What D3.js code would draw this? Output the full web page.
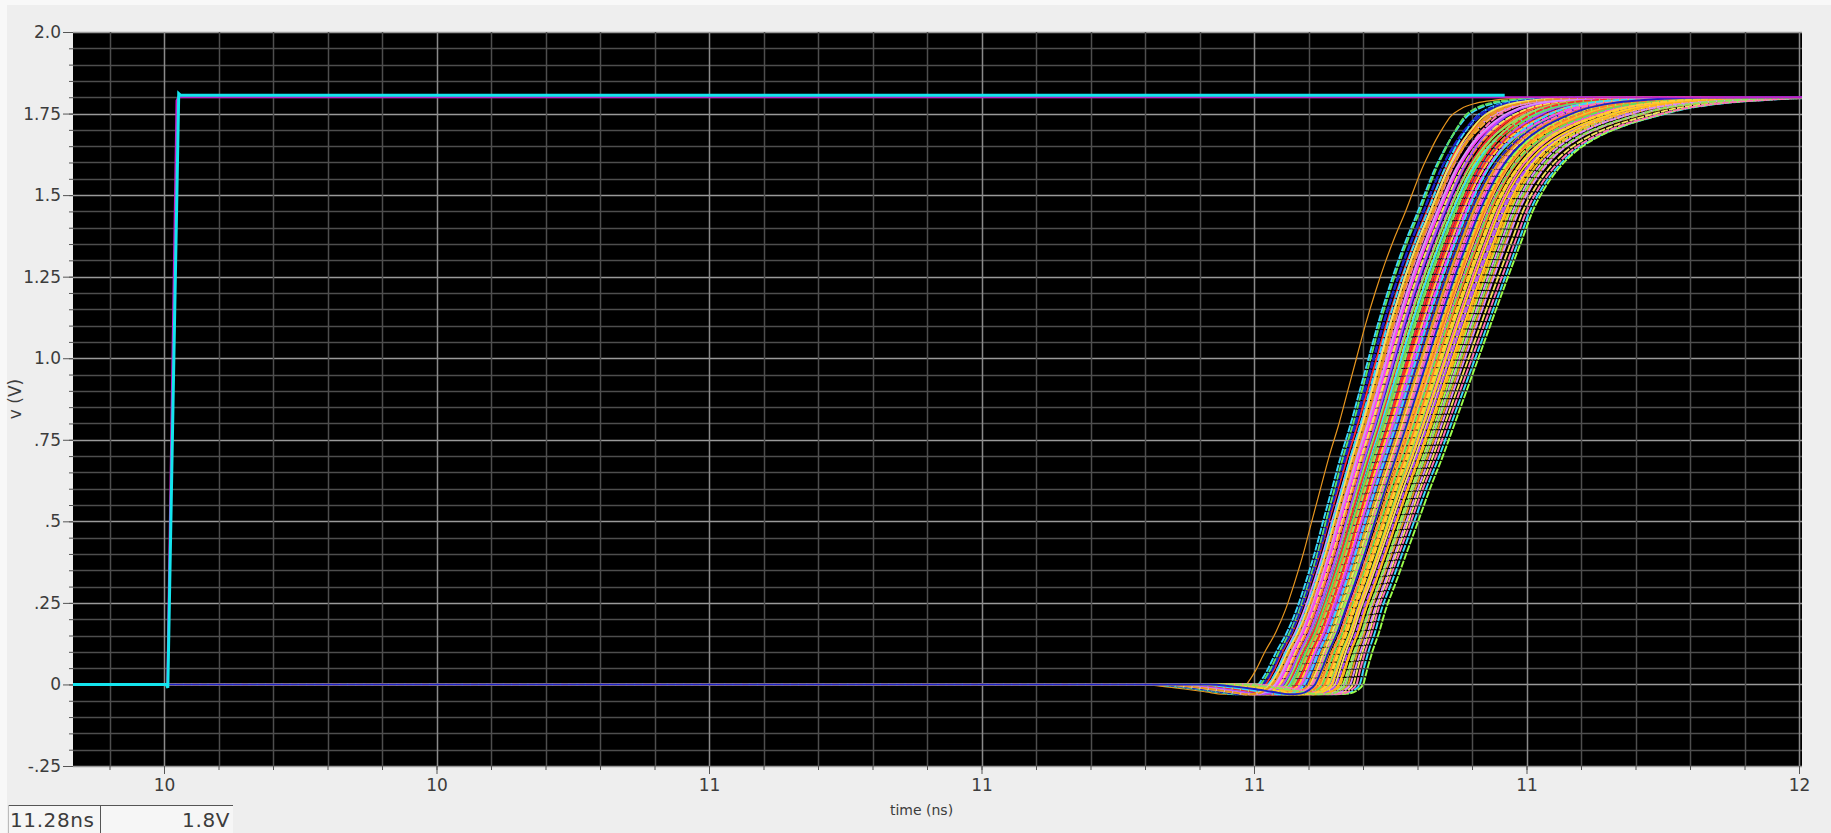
<!DOCTYPE html>
<html>
<head>
<meta charset="utf-8">
<script src="https://cdn.jsdelivr.net/npm/d3@7"></script>
<style>
  body { margin: 0; background: #eeeeee; overflow: hidden; }
  svg text { font-family: "DejaVu Sans", sans-serif; fill: #3c3c3c; }
</style>
</head>
<body>
<div id="chart"></div>
<script>
// ---- axis ticks ----
const yTickValues = [-0.25, 0, 0.25, 0.5, 0.75, 1.0, 1.25, 1.5, 1.75, 2.0];
const yTickLabels = ["-.25", "0", ".25", ".5", ".75", "1.0", "1.25", "1.5", "1.75", "2.0"];
const xTickValues = [10.0, 10.25, 10.5, 10.75, 11.0, 11.25, 11.5];
const xTickLabels = ["10", "10", "11", "11", "11", "11", "12"];

// ---- input step (two traces, the cyan one on top) ----
const inTime = [9.90, 10.002, 10.0035, 10.0135, 10.0148, 10.017, 11.23];
const inVolt = [0, 0, -0.01, 1.811, 1.807, 1.806, 1.806];
const in2Time = [9.90, 10.003, 10.0115, 10.013, 11.60];
const in2Volt = [0, 0, 1.79, 1.80, 1.80];

// ---- output waveform: voltage levels and the time (ns, relative to the 0.9V
//      crossing) at which the fastest / slowest edge of the bundle reaches them ----
const outV = [0, 0, -0.006, -0.014, -0.023, -0.030, -0.028, -0.017, 0, 0.04, 0.10,
  0.16, 0.23, 0.31, 0.41, 0.50, 0.60, 0.70, 0.80, 0.90, 1.00, 1.10, 1.20, 1.29,
  1.37, 1.45, 1.52, 1.58, 1.63, 1.67, 1.71, 1.74, 1.765, 1.782, 1.791, 1.797, 1.799, 1.80, 1.80];
const dtFast = [-1.4, -0.19, -0.17, -0.15, -0.13, -0.115, -0.106, -0.099, -0.093, -0.085, -0.076,
  -0.066, -0.057, -0.049, -0.040, -0.033, -0.025, -0.017, -0.008, 0, 0.008, 0.016, 0.025, 0.034,
  0.043, 0.053, 0.061, 0.068, 0.075, 0.081, 0.088, 0.094, 0.104, 0.118, 0.135, 0.160, 0.190, 0.240, 0.900];
const dtSlow = [-1.4, -0.19, -0.17, -0.15, -0.135, -0.120, -0.108, -0.100, -0.095, -0.092, -0.087,
  -0.081, -0.075, -0.066, -0.055, -0.045, -0.034, -0.022, -0.011, 0, 0.011, 0.022, 0.033, 0.043,
  0.052, 0.061, 0.072, 0.085, 0.100, 0.118, 0.145, 0.175, 0.205, 0.240, 0.275, 0.310, 0.350, 0.400, 0.900];

// ---- monte carlo runs: 0.9V crossing time (ns) and where each sits between
//      the fast (0) and slow (1) edge shape ----
const mcDelay = [11.086, 11.131, 11.158, 11.104, 11.176, 11.122, 11.145, 11.097, 11.167, 11.138,
  11.112, 11.186, 11.127, 11.151, 11.118, 11.163, 11.134, 11.101, 11.172, 11.141,
  11.125, 11.156, 11.109, 11.192, 11.136, 11.148, 11.116, 11.169, 11.129, 11.153,
  11.107, 11.143, 11.181, 11.121, 11.160, 11.133, 11.114, 11.149, 11.174, 11.126,
  11.139, 11.099, 11.165, 11.146, 11.119, 11.155, 11.178, 11.130, 11.111, 11.142,
  11.162, 11.124, 11.195, 11.137, 11.152, 11.106, 11.170, 11.128, 11.147, 11.117,
  11.159, 11.135, 11.183, 11.123, 11.144, 11.102, 11.166, 11.132, 11.150, 11.115,
  11.173, 11.140, 11.120, 11.157, 11.189, 11.108, 11.154, 11.161, 11.113, 11.179,
  11.110, 11.150];
const mcMix = [0.00, 0.45, 0.55, 0.20, 0.75, 0.35, 0.40, 0.05, 0.85, 0.50,
  0.10, 0.95, 0.25, 0.65, 0.30, 0.60, 0.35, 0.15, 0.70, 0.55,
  0.40, 0.70, 0.20, 1.00, 0.35, 0.60, 0.15, 0.80, 0.30, 0.50,
  0.20, 0.45, 0.90, 0.20, 0.75, 0.45, 0.25, 0.45, 0.85, 0.40,
  0.40, 0.00, 0.65, 0.55, 0.30, 0.55, 0.80, 0.30, 0.10, 0.50,
  0.70, 0.25, 0.95, 0.50, 0.65, 0.05, 0.70, 0.40, 0.45, 0.30,
  0.60, 0.45, 0.85, 0.35, 0.55, 0.10, 0.75, 0.30, 0.60, 0.25,
  0.75, 0.40, 0.20, 0.65, 1.00, 0.10, 0.55, 0.70, 0.25, 0.90,
  0.15, 0.50];

const palette = ["#e8961e", "#1c22c8", "#ffd21a", "#ff2a2a", "#9cff4a", "#ff3dff", "#ffb01f", "#38d8ff",
  "#b04dff", "#5fe05f", "#ff70b8", "#f2e35a", "#ff7f2a", "#ffcc33", "#d98aff", "#8ce65a"];

// ---- layout ----
const W = 1831, H = 833;
const margin = {top: 32, left: 73, right: 29, bottom: 67};
const pw = W - margin.left - margin.right;
const ph = H - margin.top - margin.bottom;

const svg = d3.select("#chart").append("svg").attr("width", W).attr("height", H);
svg.append("rect").attr("width", W).attr("height", H).attr("fill", "#eeeeee");
svg.append("rect").attr("width", W).attr("height", 5).attr("fill", "#f8f8f8");
svg.append("rect").attr("width", 7).attr("height", H).attr("fill", "#f8f8f8");

const x = d3.scaleLinear().domain([9.91651, 11.50275]).range([0, pw]);
const y = d3.scaleLinear().domain([-0.25, 2.0]).range([ph, 0]);

const g = svg.append("g").attr("transform", `translate(${margin.left},${margin.top})`);
g.append("rect").attr("width", pw).attr("height", ph).attr("fill", "#000");

g.append("clipPath").attr("id", "plotclip")
  .append("rect").attr("width", pw).attr("height", ph);

// grid: minor every 0.05, major on the labelled ticks
const yMinor = d3.range(-0.25, 2.0001, 0.05).map(v => +v.toFixed(2));
const xMinor = d3.range(9.95, 11.5001, 0.05).map(v => +v.toFixed(2));
const isMajor = v => Math.abs(v * 4 - Math.round(v * 4)) < 1e-6;

const grid = g.append("g");
grid.selectAll("line.h").data(yMinor).join("line")
  .attr("x1", 0).attr("x2", pw)
  .attr("y1", d => Math.round(y(d)) + 0.5).attr("y2", d => Math.round(y(d)) + 0.5)
  .attr("stroke", d => isMajor(d) ? "#9a9a9a" : "#4e4e4e")
  .attr("stroke-width", 1.3);
grid.selectAll("line.v").data(xMinor).join("line")
  .attr("y1", 0).attr("y2", ph)
  .attr("x1", d => Math.round(x(d)) + 0.5).attr("x2", d => Math.round(x(d)) + 0.5)
  .attr("stroke", d => isMajor(d) ? "#8a8a8a" : "#4e4e4e")
  .attr("stroke-width", 1.5);

// axes
const yAxisMinor = g.append("g").call(d3.axisLeft(y).tickValues(yMinor).tickSize(4).tickFormat(""));
const yAxis = g.append("g").call(d3.axisLeft(y).tickValues(yTickValues).tickSize(10).tickPadding(2)
  .tickFormat((d, i) => yTickLabels[i]));
const xAxisMinor = g.append("g").attr("transform", `translate(0,${ph})`)
  .call(d3.axisBottom(x).tickValues(xMinor).tickSize(4).tickFormat(""));
const xAxis = g.append("g").attr("transform", `translate(0,${ph})`)
  .call(d3.axisBottom(x).tickValues(xTickValues).tickSize(8).tickPadding(5)
  .tickFormat((d, i) => xTickLabels[i]));
[yAxisMinor, yAxis, xAxisMinor, xAxis].forEach(a => {
  a.select(".domain").remove();
  a.selectAll(".tick line").attr("stroke", "#555");
  a.selectAll(".tick text").attr("font-size", 17).attr("fill", "#3c3c3c");
});

// axis titles
svg.append("text").attr("x", margin.left + x(10.695)).attr("y", 815)
  .attr("text-anchor", "middle").attr("font-size", 14).text("time (ns)");
svg.append("text").attr("transform", `translate(21,${margin.top + ph / 2}) rotate(-90)`)
  .attr("text-anchor", "middle").attr("font-size", 17).text("v (V)");

// traces
const line = d3.line().x(d => x(d.t)).y(d => y(d.v)).curve(d3.curveMonotoneX);
const plot = g.append("g").attr("clip-path", "url(#plotclip)");

const runs = mcDelay.map((d, i) => outV.map((v, k) => ({
  t: d + dtFast[k] + mcMix[i] * (dtSlow[k] - dtFast[k]),
  v
})));
plot.selectAll("path.run").data(runs).join("path")
  .attr("class", "run")
  .attr("d", line)
  .attr("fill", "none")
  .attr("stroke", (d, i) => palette[i % palette.length])
  .attr("stroke-width", (d, i) => i === 0 ? 1.2 : 1.9)
  .attr("stroke-dasharray", (d, i) => i % 3 === 0 ? null : "7 1.2");

const in2 = in2Time.map((t, k) => ({t, v: in2Volt[k]}));
plot.append("path").attr("d", d3.line().x(d => x(d.t)).y(d => y(d.v))(in2))
  .attr("fill", "none").attr("stroke", "#c020c8").attr("stroke-width", 2);
const in1 = inTime.map((t, k) => ({t, v: inVolt[k]}));
plot.append("path").attr("d", d3.line().x(d => x(d.t)).y(d => y(d.v))(in1))
  .attr("fill", "none").attr("stroke", "#14e4ee").attr("stroke-width", 3);

// cursor readout box
const rb = svg.append("g");
rb.append("rect").attr("x", 8).attr("y", 805).attr("width", 225).attr("height", 30).attr("fill", "#f6f6f6");
rb.append("line").attr("x1", 8).attr("x2", 233).attr("y1", 805.5).attr("y2", 805.5).attr("stroke", "#555");
rb.append("line").attr("x1", 100.5).attr("x2", 100.5).attr("y1", 805).attr("y2", 833).attr("stroke", "#555");
rb.append("line").attr("x1", 8.5).attr("x2", 8.5).attr("y1", 805).attr("y2", 833).attr("stroke", "#bbb");
rb.append("text").attr("x", 10).attr("y", 827).attr("font-size", 20).attr("letter-spacing", 0.6).text("11.28ns");
rb.append("text").attr("x", 230).attr("y", 827).attr("font-size", 20).attr("letter-spacing", 0.6)
  .attr("text-anchor", "end").text("1.8V");
</script>
</body>
</html>
